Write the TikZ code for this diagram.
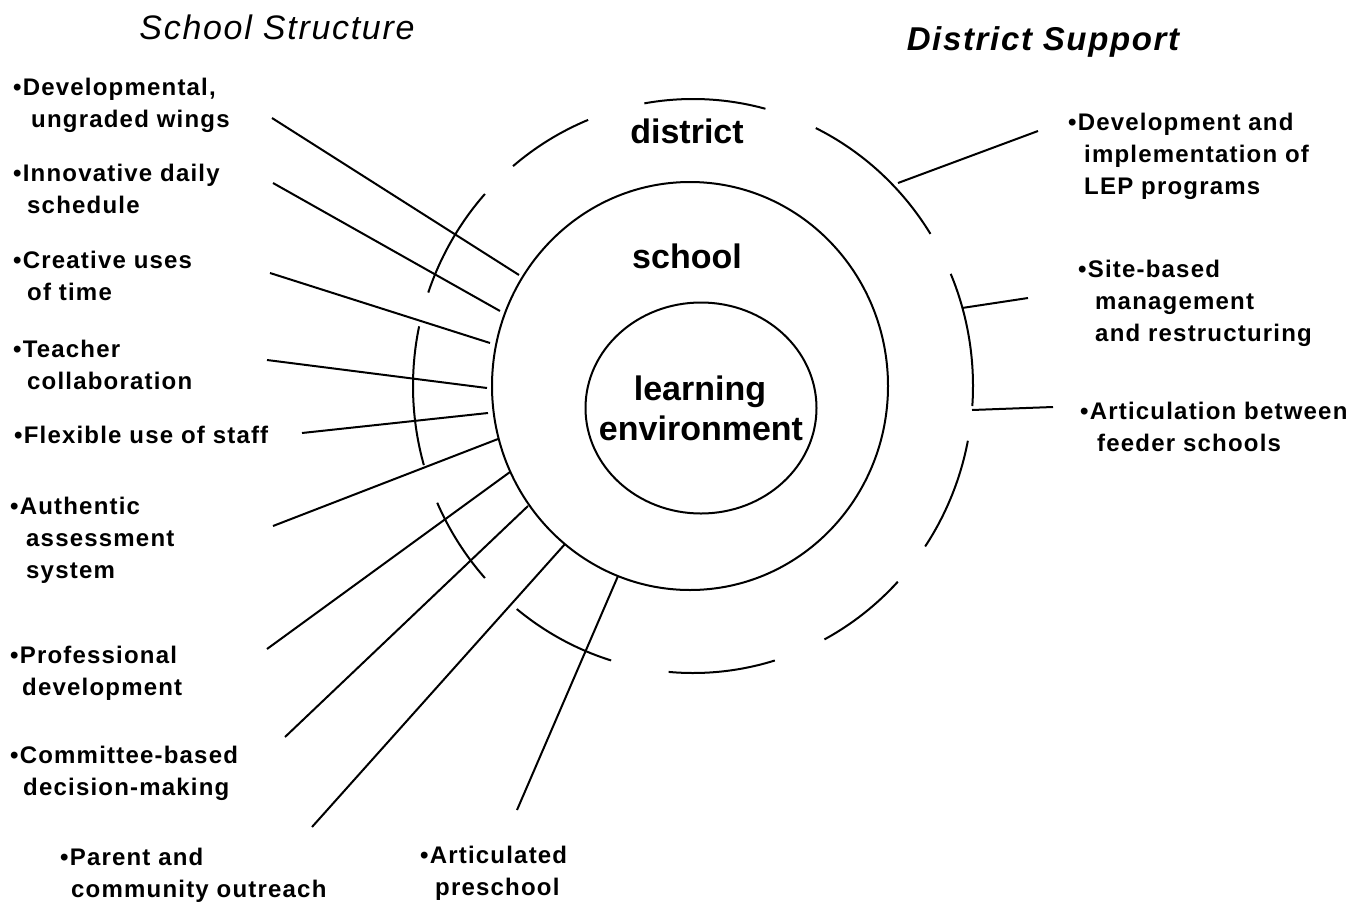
\documentclass[tikz,border=0pt]{standalone}
\usepackage{fontspec}
\setmainfont{Liberation Sans}
\newfontfamily\labfont{Liberation Sans}[LetterSpace=5]
\usetikzlibrary{shapes.geometric}
\tikzset{
  lbl/.style={anchor=base west, inner sep=0pt, font=\labfont\bfseries\fontsize{24}{32}\selectfont},
  ttl/.style={anchor=base, inner sep=0pt},
  ring/.style={draw, ellipse, inner sep=0pt, line width=2pt},
  word/.style={anchor=base, inner sep=0pt, font=\bfseries\fontsize{34}{40}\selectfont},
  conn/.style={line width=2pt},
  arcseg/.style={line width=2pt},
}
\newcommand{\outerarc}[2]{%
  \draw[arcseg] ([shift={(#1:280pt and 287pt)}]693,386) arc[start angle=#1, end angle=#2, x radius=280pt, y radius=287pt];}
\begin{document}
\begin{tikzpicture}[x=1pt,y=-1pt]
\fill[white] (0,0) rectangle (1368,905);
\useasboundingbox (0,0) rectangle (1368,905);

% titles
\node[ttl, font=\labfont\itshape\fontsize{34}{40}\selectfont] (tschool) at (277,39) {School Structure};
\node[ttl, font=\labfont\bfseries\itshape\fontsize{33}{40}\selectfont] (tdistrict) at (1043,50) {District Support};

% rings
\node[ring, minimum width=396pt, minimum height=408pt] (schoolring) at (690,386) {};
\node[ring, minimum width=231pt, minimum height=211pt] (lering) at (701,408) {};
\outerarc{75}{100}
\outerarc{112}{130}
\outerarc{32}{64}
\outerarc{-4}{23}
\outerarc{-34}{-11}
\outerarc{-62}{-43}
\outerarc{-95}{-73}
\outerarc{-129}{-107}
\outerarc{204}{222}
\outerarc{168}{196}
\outerarc{138}{161}

% ring labels
\node[word] (wdistrict) at (687,143) {district};
\node[word] (wschool) at (687,268) {school};
\node[word] (wlearn) at (700,400) {learning};
\node[word] (wenv) at (701,440) {environment};

% left labels
\node[lbl] (l1) at (13,95) {\begin{tabular}[t]{@{}l@{}}•Developmental,\\\hspace*{18pt}ungraded wings\end{tabular}};
\node[lbl] (l2) at (13,181) {\begin{tabular}[t]{@{}l@{}}•Innovative daily\\\hspace*{14pt}schedule\end{tabular}};
\node[lbl] (l3) at (13,268) {\begin{tabular}[t]{@{}l@{}}•Creative uses\\\hspace*{14pt}of time\end{tabular}};
\node[lbl] (l4) at (13,357) {\begin{tabular}[t]{@{}l@{}}•Teacher\\\hspace*{14pt}collaboration\end{tabular}};
\node[lbl] (l5) at (14,443) {\begin{tabular}[t]{@{}l@{}}•Flexible use of staff\end{tabular}};
\node[lbl] (l6) at (10,514) {\begin{tabular}[t]{@{}l@{}}•Authentic\\\hspace*{16pt}assessment\\\hspace*{16pt}system\end{tabular}};
\node[lbl] (l7) at (10,663) {\begin{tabular}[t]{@{}l@{}}•Professional\\\hspace*{12pt}development\end{tabular}};
\node[lbl] (l8) at (10,763) {\begin{tabular}[t]{@{}l@{}}•Committee-based\\\hspace*{13pt}decision-making\end{tabular}};
\node[lbl] (l9) at (60,865) {\begin{tabular}[t]{@{}l@{}}•Parent and\\\hspace*{11pt}community outreach\end{tabular}};
\node[lbl] (l10) at (420,863) {\begin{tabular}[t]{@{}l@{}}•Articulated\\\hspace*{15pt}preschool\end{tabular}};

% right labels
\node[lbl] (r1) at (1068,130) {\begin{tabular}[t]{@{}l@{}}•Development and\\\hspace*{16pt}implementation of\\\hspace*{16pt}LEP programs\end{tabular}};
\node[lbl] (r2) at (1078,277) {\begin{tabular}[t]{@{}l@{}}•Site-based\\\hspace*{17pt}management\\\hspace*{17pt}and restructuring\end{tabular}};
\node[lbl] (r3) at (1080,419) {\begin{tabular}[t]{@{}l@{}}•Articulation between\\\hspace*{17pt}feeder schools\end{tabular}};

% connector end points
\coordinate (a1) at (272,118);  \coordinate (b1) at (519,275);
\coordinate (a2) at (273,183);  \coordinate (b2) at (500,311);
\coordinate (a3) at (270,273);  \coordinate (b3) at (490,343);
\coordinate (a4) at (267,360);  \coordinate (b4) at (487,388);
\coordinate (a5) at (302,433);  \coordinate (b5) at (488,413);
\coordinate (a6) at (273,526);  \coordinate (b6) at (498,439);
\coordinate (a7) at (267,649);  \coordinate (b7) at (510,472);
\coordinate (a8) at (285,737);  \coordinate (b8) at (528,506);
\coordinate (a9) at (312,827);  \coordinate (b9) at (565,544);
\coordinate (a10) at (517,810); \coordinate (b10) at (618,576);
\coordinate (c1) at (1038,131); \coordinate (d1) at (898,183);
\coordinate (c2) at (1028,298); \coordinate (d2) at (962,308);
\coordinate (c3) at (1053,407); \coordinate (d3) at (972,410);

\foreach \i in {1,...,10} {\draw[conn] (a\i) -- (b\i);}
\foreach \i in {1,2,3} {\draw[conn] (c\i) -- (d\i);}
\end{tikzpicture}
\end{document}
